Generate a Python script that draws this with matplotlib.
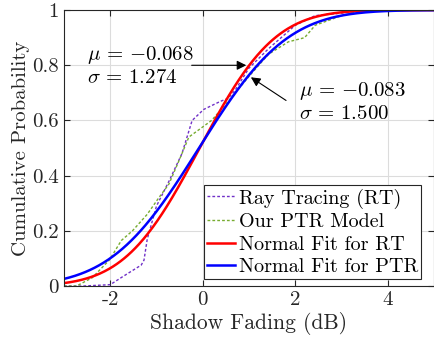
import math
import matplotlib
matplotlib.use('Agg')
import matplotlib.pyplot as plt

## data
rt_x = [-3.0, -2.6, -2.0, -1.74, -1.33, -1.27, -1.2, -1.0, -0.73, -0.45, -0.23, 0.02, 0.39, 0.55, 0.7, 1.0, 1.42, 2.0, 2.43, 3.07, 3.5, 5.0]
rt_y = [0.0, 0.0, 0.005, 0.033, 0.076, 0.094, 0.17, 0.29, 0.38, 0.48, 0.60, 0.64, 0.67, 0.68, 0.71, 0.79, 0.86, 0.945, 0.98, 0.99, 1.0, 1.0]

ptr_x = [-3.0, -2.73, -2.39, -2.02, -1.76, -1.52, -1.2, -0.95, -0.73, -0.5, -0.3, 0.19, 0.5, 1.0, 1.42, 1.85, 2.2, 2.43, 3.0, 3.5, 5.0]
ptr_y = [0.0, 0.0, 0.03, 0.094, 0.165, 0.2, 0.26, 0.32, 0.37, 0.46, 0.54, 0.60, 0.66, 0.76, 0.84, 0.885, 0.90, 0.945, 0.98, 1.0, 1.0]

# Normal fit parameters (mu, sigma)
fit_rt = (-0.068, 1.274)
fit_ptr = (-0.083, 1.500)

x_ticks = [-2, 0, 2, 4]
x_ticklabels = ['-2', '0', '2', '4']
y_ticks = [0, 0.2, 0.4, 0.6, 0.8, 1]
y_ticklabels = ['0', '0.2', '0.4', '0.6', '0.8', '1']

labels = ['Ray Tracing (RT)', 'Our PTR Model', 'Normal Fit for RT', 'Normal Fit for PTR']


def norm_cdf(xs, mu, sigma):
    return [0.5 * (1 + math.erf((x - mu) / (sigma * math.sqrt(2)))) for x in xs]


## style
plt.rcParams['font.family'] = 'serif'
plt.rcParams['font.serif'] = ['cmr10', 'DejaVu Serif']
plt.rcParams['mathtext.fontset'] = 'cm'
plt.rcParams['axes.formatter.use_mathtext'] = True

fig = plt.figure(figsize=(4.35, 3.48), dpi=100)
ax = fig.add_axes([0.147, 0.178, 0.851, 0.793])

xs = [-3 + i * 0.02 for i in range(401)]

ax.plot(rt_x, rt_y, color='#7030C8', lw=1.0, linestyle=(0, (2, 1.5)), label=labels[0])
ax.plot(ptr_x, ptr_y, color='#77AC30', lw=1.0, linestyle=(0, (2, 1.5)), label=labels[1])
ax.plot(xs, norm_cdf(xs, *fit_rt), color='#FF0000', lw=1.8, label=labels[2])
ax.plot(xs, norm_cdf(xs, *fit_ptr), color='#0000FF', lw=1.8, label=labels[3])

ax.set_xlim(-3, 5)
ax.set_ylim(0, 1)
ax.set_xticks(x_ticks)
ax.set_xticklabels(x_ticklabels)
ax.set_yticks(y_ticks)
ax.set_yticklabels(y_ticklabels)
ax.tick_params(direction='in', top=True, right=True, labelsize=15, colors='#262626', length=4)
for s in ax.spines.values():
    s.set_color('#262626')
    s.set_linewidth(0.8)
ax.grid(True, color='#dcdcdc', lw=0.8)
ax.set_axisbelow(True)

ax.set_xlabel('Shadow Fading (dB)', fontsize=15.5, color='#262626', labelpad=2)
ax.set_ylabel('Cumulative Probability', fontsize=15, color='#262626', labelpad=2)

# annotations
ax.text(-2.5, 0.80, '$\\mu\\,=\\,{-0.068}$\n$\\sigma\\,=\\,1.274$', fontsize=15, va='center', ha='left', linespacing=1.2)
ax.annotate('', xy=(1.0, 0.80), xytext=(-0.3, 0.80),
            arrowprops=dict(arrowstyle='-|>', color='black', lw=0.8, mutation_scale=14))
ax.text(2.07, 0.67, '$\\mu\\,=\\,{-0.083}$\n$\\sigma\\,=\\,1.500$', fontsize=15, va='center', ha='left', linespacing=1.2)
ax.annotate('', xy=(0.99, 0.762), xytext=(1.85, 0.667),
            arrowprops=dict(arrowstyle='-|>', color='black', lw=0.8, mutation_scale=14))

leg = ax.legend(loc='lower right', bbox_to_anchor=(0.965, 0.025), fontsize=14.5, fancybox=False,
                edgecolor='#262626', framealpha=1, borderpad=0.15, labelspacing=0.22,
                handlelength=1.4, handletextpad=0.2, borderaxespad=0)
leg.get_frame().set_linewidth(0.8)

fig.savefig('out.png', dpi=100)
